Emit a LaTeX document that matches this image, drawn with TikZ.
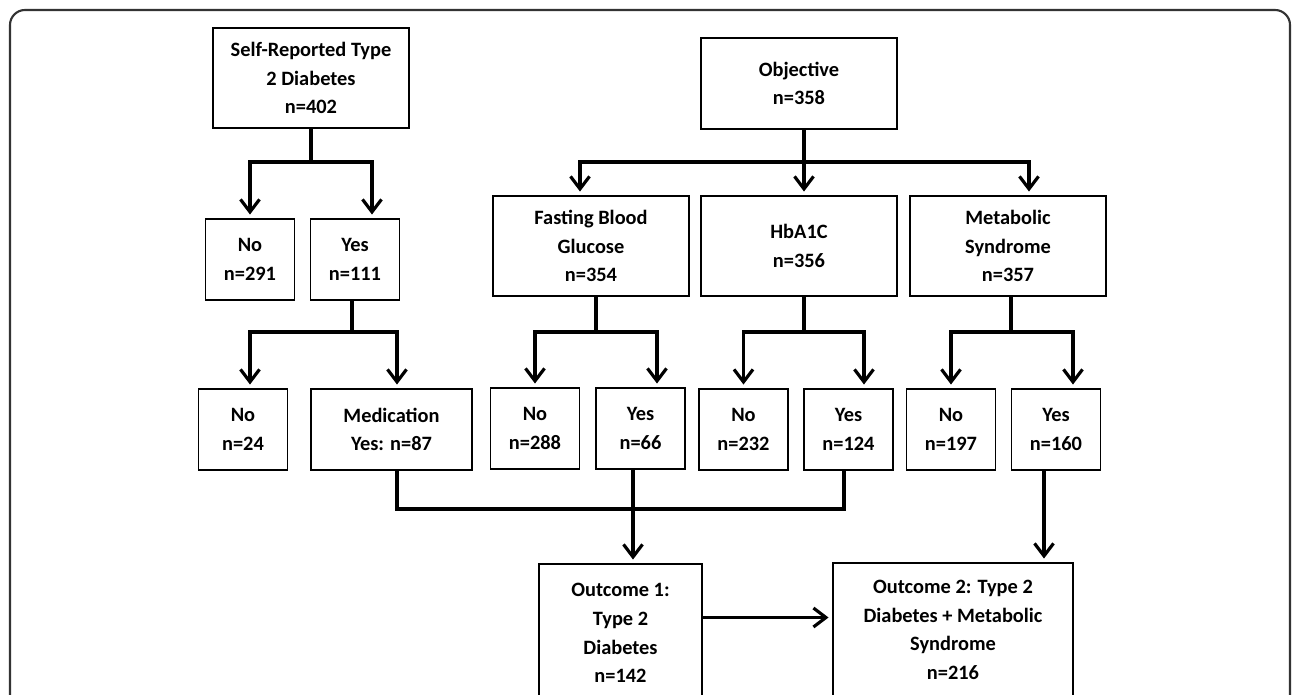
\documentclass[tikz,border=0pt]{standalone}
\usepackage{fontspec}
\setmainfont{Carlito}
\usetikzlibrary{arrows.meta, positioning}

\begin{document}
\begin{tikzpicture}[
    x=0.02cm, y=-0.02cm,
    box/.style={draw, line width=1.1pt, align=center, inner sep=0pt, font=\bfseries\fontsize{11.6}{16.3}\selectfont},
    bigbox/.style={box, minimum width=3.92cm, minimum height=2cm},
    smallbox/.style={box, minimum width=1.78cm, minimum height=1.62cm},
    link/.style={line width=1.8pt},
    arr/.style={link, -{Straight Barb[length=2.5mm, width=3.8mm]}, shorten >=2pt},
]
    \useasboundingbox (0,0) rectangle (1292,695);
    \clip (0,0) rectangle (1292,695);
    \draw[line width=1.2pt, black!80, rounded corners=0.3cm] (10,780) -- (10,10) -- (1290,10) -- (1290,780);

    % Self-reported side
    \node[bigbox] (self) at (311,78) {Self-Reported Type\\2 Diabetes\\n=402};
    \node[smallbox] (no1) at (250,259.5) {No\\n=291};
    \node[smallbox] (yes1) at (355,259.5) {Yes\\n=111};
    \node[smallbox] (no2) at (243,429.5) {No\\n=24};
    \node[smallbox, minimum width=3.22cm] (med) at (391.5,429.5) {Medication\\Yes: n=87};

    % Objective side
    \node[bigbox, minimum height=1.82cm] (obj) at (799,83.5) {Objective\\n=358};
    \node[bigbox] (fbg) at (591,246) {Fasting Blood\\Glucose\\n=354};
    \node[bigbox] (hba) at (799,246) {HbA1C\\n=356};
    \node[bigbox] (mets) at (1008,246) {Metabolic\\Syndrome\\n=357};
    \node[smallbox] (nofbg) at (535,428.5) {No\\n=288};
    \node[smallbox] (yesfbg) at (640.5,428.5) {Yes\\n=66};
    \node[smallbox] (nohba) at (743.5,429.5) {No\\n=232};
    \node[smallbox] (yeshba) at (848.5,429.5) {Yes\\n=124};
    \node[smallbox] (nomets) at (951,429.5) {No\\n=197};
    \node[smallbox] (yesmets) at (1056,429.5) {Yes\\n=160};

    % Outcomes
    \node[box, minimum width=3.26cm, minimum height=2.76cm] (out1) at (620.5,633) {Outcome 1:\\Type 2\\Diabetes\\n=142};
    \node[box, minimum width=4.8cm, minimum height=2.68cm] (out2) at (953,630) {Outcome 2: Type 2\\Diabetes + Metabolic\\Syndrome\\n=216};

    % branches
    \draw[link] (self.south) -- ++(0,33) coordinate (sj);
    \draw[arr] (sj) -| (no1.north);
    \draw[arr] (sj) -| ([xshift=0.34cm]yes1.north);

    \draw[link] ([xshift=-0.06cm]yes1.south) -- ++(0,31) coordinate (yj);
    \draw[arr] (yj) -| ([xshift=0.14cm]no2.north);
    \draw[arr] (yj) -| ([xshift=0.11cm]med.north);

    \draw[link] ([xshift=0.1cm]obj.south) -- ++(0,32) coordinate (oj);
    \draw[arr] (oj) -| ([xshift=-0.22cm]fbg.north);
    \draw[arr] (oj) -- ([xshift=0.1cm]hba.north);
    \draw[arr] (oj) -| ([xshift=0.42cm]mets.north);

    \draw[link] ([xshift=0.1cm]fbg.south) -- ++(0,35) coordinate (fj);
    \draw[arr] (fj) -| (nofbg.north);
    \draw[arr] (fj) -| ([xshift=0.33cm]yesfbg.north);

    \draw[link] ([xshift=0.1cm]hba.south) -- ++(0,35) coordinate (hj);
    \draw[arr] (hj) -| (nohba.north);
    \draw[arr] (hj) -| ([xshift=0.31cm]yeshba.north);

    \draw[link] ([xshift=0.06cm]mets.south) -- ++(0,35) coordinate (mj);
    \draw[arr] (mj) -| (nomets.north);
    \draw[arr] (mj) -| ([xshift=0.34cm]yesmets.north);

    % to outcomes
    \draw[link] ([xshift=0.11cm]med.south) -- ++(0,38) -| ([xshift=-0.09cm]yeshba.south);
    \draw[arr] ([xshift=-0.15cm]yesfbg.south) -- ([xshift=-0.15cm]yesfbg.south |- out1.north);
    \draw[arr] ([xshift=-0.24cm]yesmets.south) -- ([xshift=-0.24cm]yesmets.south |- out2.north);
    \draw[arr] ([yshift=0.31cm]out1.east) -- ([yshift=0.31cm]out1.east -| out2.west);
\end{tikzpicture}
\end{document}
